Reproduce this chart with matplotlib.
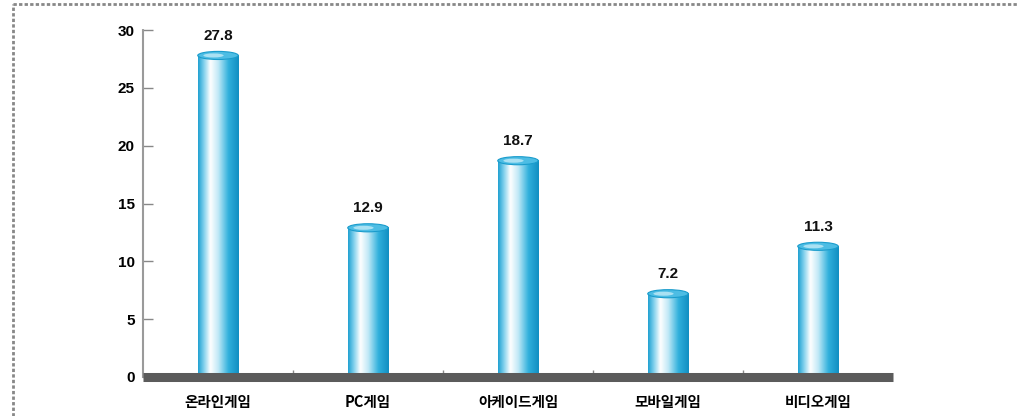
import numpy as np
import matplotlib
matplotlib.use("Agg")
import matplotlib.pyplot as plt
from matplotlib.colors import LinearSegmentedColormap
from matplotlib.patches import Ellipse
from matplotlib.lines import Line2D

plt.rcParams['font.family'] = ['Liberation Sans', 'Noto Sans CJK KR', 'DejaVu Sans']

categories = ['온라인게임', 'PC게임', '아케이드게임', '모바일게임', '비디오게임']
values = [27.8, 12.9, 18.7, 7.2, 11.3]
y_ticks = [0, 5, 10, 15, 20, 25, 30]

fig = plt.figure(figsize=(10.18, 4.16), dpi=100)
ax = fig.add_axes([143 / 1018, 39 / 416, 750 / 1018, 347 / 416])

x = np.arange(len(categories))
bar_w = 0.27
ax.set_xlim(-0.5, len(categories) - 0.5)
ax.set_ylim(0, 30)

# cylinder shading: cyan edges with a bright highlight left of centre
cyl = LinearSegmentedColormap.from_list(
    'cyl', [(0.0, '#22a2d2'), (0.12, '#74cbea'), (0.3, '#ffffff'),
            (0.5, '#bfe8f6'), (0.75, '#30b0dc'), (1.0, '#128fc2')])
grad = np.linspace(0, 1, 64).reshape(1, -1)

cap_h = 0.7
for xi, v in zip(x, values):
    ax.imshow(grad, cmap=cyl, aspect='auto', interpolation='bicubic',
              extent=(xi - bar_w / 2, xi + bar_w / 2, 0, v), zorder=2)
    ax.add_patch(Ellipse((xi, v), bar_w, cap_h, facecolor='#4dbde4',
                         edgecolor='#1a9ccc', lw=0.8, zorder=3))
    ax.add_patch(Ellipse((xi - 0.03, v), bar_w * 0.5, cap_h * 0.5,
                         facecolor='#a9e1f3', edgecolor='none', zorder=3))
    ax.annotate(f'{v:.1f}', (xi, v), xytext=(0, 9), textcoords='offset points',
                ha='center', va='bottom', fontsize=11, fontweight='bold',
                color='#111111')

ax.set_xlim(-0.5, len(categories) - 0.5)
ax.set_ylim(0, 30)

# thick base line
ax.axhline(0, color='#5b5b5b', lw=6.5, zorder=4, clip_on=False,
           solid_capstyle='butt')

for s in ['top', 'right', 'bottom']:
    ax.spines[s].set_visible(False)
ax.spines['left'].set_color('#9a9a9a')
ax.spines['left'].set_linestyle((0, (1.5, 1)))
ax.spines['left'].set_linewidth(1.5)

ax.set_yticks(y_ticks)
ax.set_yticklabels([str(t) for t in y_ticks], fontsize=11, fontweight='bold')
ax.tick_params(axis='y', direction='in', length=7, width=1, color='#888888',
               pad=6)

ax.set_xticks(x)
ax.set_xticklabels(categories, fontsize=10.5, fontweight='bold',
                   family=['Noto Sans CJK KR', 'DejaVu Sans'])
ax.tick_params(axis='x', length=0, pad=12)
ax.set_xticks(np.arange(0.5, len(categories) - 0.5, 1.0), minor=True)
ax.tick_params(axis='x', which='minor', direction='in', length=5,
               color='#888888', width=1)

# dashed frame around the panel
fig.add_artist(Line2D([13 / 1018, 13 / 1018], [0, 1 - 4 / 416],
                      transform=fig.transFigure, color='#888888', lw=2,
                      linestyle=(0, (1.2, 0.8))))
fig.add_artist(Line2D([13 / 1018, 1], [1 - 4 / 416, 1 - 4 / 416],
                      transform=fig.transFigure, color='#888888', lw=2,
                      linestyle=(0, (1.2, 0.8))))

fig.savefig('out.png', dpi=100)
